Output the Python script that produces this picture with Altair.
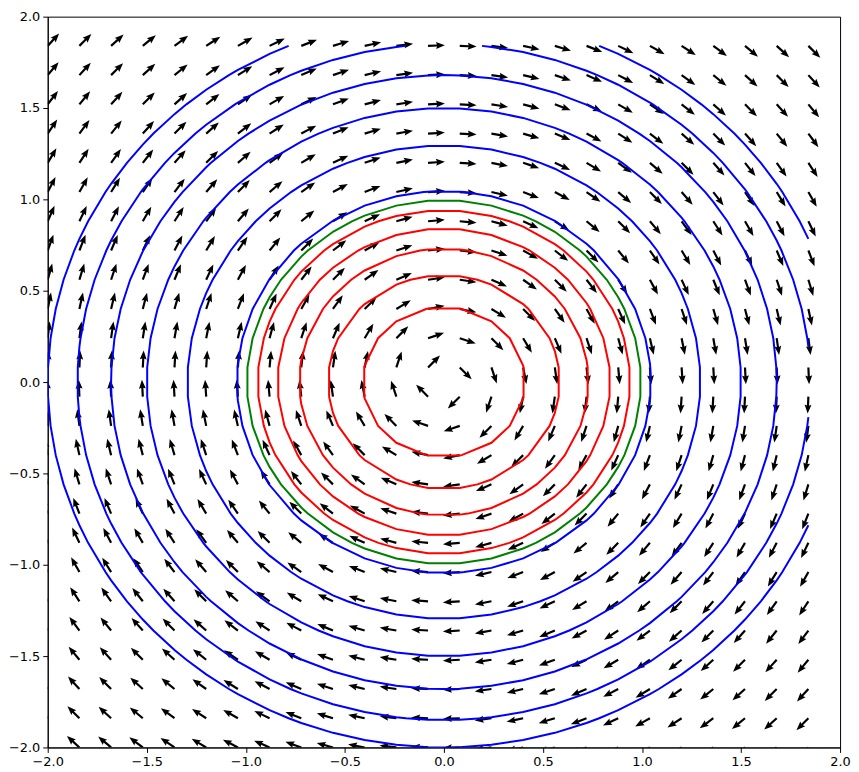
import math
import altair as alt
import pandas as pd

# Grid of arrow tails (x and y share the same coordinates)
grid = [-2.0, -1.84, -1.68, -1.52, -1.36, -1.2, -1.04, -0.88, -0.72, -0.56, -0.4,
        -0.24, -0.08, 0.08, 0.24, 0.4, 0.56, 0.72, 0.88, 1.04, 1.2, 1.36, 1.52,
        1.68, 1.84]

# Contour radii, grouped by colour class
inner_radii = [0.41, 0.585, 0.73, 0.84, 0.94]
unit_radii = [0.995]
outer_radii = [1.045, 1.295, 1.50, 1.68, 1.85, 2.0]

tick_values = [-2.0, -1.5, -1.0, -0.5, 0.0, 0.5, 1.0, 1.5, 2.0]

# ---- arrows: rotational field (u, v) = (y, -x), normalised ----
arrow_rows = []
for gx in grid:
    for gy in grid:
        u, v = gy, -gx
        bearing = (math.degrees(math.atan2(u, v)) + 360.0) % 360.0
        arrow_rows.append({"x": gx, "y": gy, "ang": bearing})
arrows_df = pd.DataFrame(arrow_rows)

# ---- contour polylines: circle/grid-line crossings inside the grid domain ----
lo, hi = grid[0], grid[-1]
eps = 1e-9


def inside(px, py):
    return lo - eps <= px <= hi + eps and lo - eps <= py <= hi + eps


levels = ([(r, "inner") for r in inner_radii] + [(r, "unit") for r in unit_radii]
          + [(r, "outer") for r in outer_radii])

line_rows = []
seg_id = 0
for li, (r, kind) in enumerate(levels):
    pts = []
    for g in grid:
        if abs(g) <= r:
            h = math.sqrt(max(r * r - g * g, 0.0))
            for s in (h, -h):
                pts.append((g, s))
                pts.append((s, g))
    pts = [p for p in pts if inside(*p)]
    pts = sorted(set((round(a, 6), round(b, 6)) for a, b in pts),
                 key=lambda p: math.atan2(p[1], p[0]))
    n = len(pts)
    angs = [math.atan2(p[1], p[0]) for p in pts]
    gaps = []
    for i in range(n):
        a1 = angs[i]
        a2 = angs[(i + 1) % n]
        if i == n - 1:
            a2 += 2 * math.pi
        am = 0.5 * (a1 + a2)
        if not inside(r * math.cos(am), r * math.sin(am)):
            gaps.append(i)
    if not gaps:
        segments = [list(range(n)) + [0]]
    else:
        segments = []
        start = (gaps[0] + 1) % n
        cur = []
        for k in range(n):
            i = (start + k) % n
            cur.append(i)
            if i in gaps:
                segments.append(cur)
                cur = []
        if cur:
            segments.append(cur)
    for seg in segments:
        for j, idx in enumerate(seg):
            line_rows.append({"x": pts[idx][0], "y": pts[idx][1],
                              "seg": seg_id, "o": j, "kind": kind})
        seg_id += 1
lines_df = pd.DataFrame(line_rows)

xscale = alt.Scale(domain=[-2, 2], nice=False, zero=False)
yscale = alt.Scale(domain=[-2, 2], nice=False, zero=False)
label_expr = "replace(format(datum.value, '.1f'), '-', '\u2212')"
xaxis = alt.Axis(values=tick_values, labelExpr=label_expr, title=None)
yaxis = alt.Axis(values=tick_values, labelExpr=label_expr, title=None)

arrow_path = "M -1.1,0 L -1.1,-9 L -3.5,-8 L 0,-17 L 3.5,-8 L 1.1,-9 L 1.1,0 Z"

arrows = alt.Chart(arrows_df).mark_point(
    shape=arrow_path, size=4, filled=True, color="black", opacity=1,
    strokeWidth=0, clip=True
).encode(
    x=alt.X("x:Q", scale=xscale, axis=xaxis),
    y=alt.Y("y:Q", scale=yscale, axis=yaxis),
    angle=alt.Angle("ang:Q", scale=None),
)

lines = alt.Chart(lines_df).mark_line(strokeWidth=2, clip=True).encode(
    x=alt.X("x:Q", scale=xscale, axis=xaxis),
    y=alt.Y("y:Q", scale=yscale, axis=yaxis),
    color=alt.Color("kind:N", scale=alt.Scale(domain=["inner", "unit", "outer"],
                                             range=["#ff0000", "#008000", "#0000ff"]),
                    legend=None),
    detail="seg:N",
    order="o:Q",
)

chart = alt.layer(arrows, lines).properties(
    width=798, height=736, padding={"left": 0, "top": 0, "right": 0, "bottom": 0}
).configure_view(
    stroke="black", strokeWidth=1
).configure_axis(
    domainColor="black", domainWidth=1, tickColor="black", tickWidth=1,
    tickSize=5, labelFont="DejaVu Sans", labelFontSize=13, labelColor="black",
    labelPadding=3, grid=False, labelFlush=False
)

chart.save("out.html", embed_options={"renderer": "svg", "actions": False})
